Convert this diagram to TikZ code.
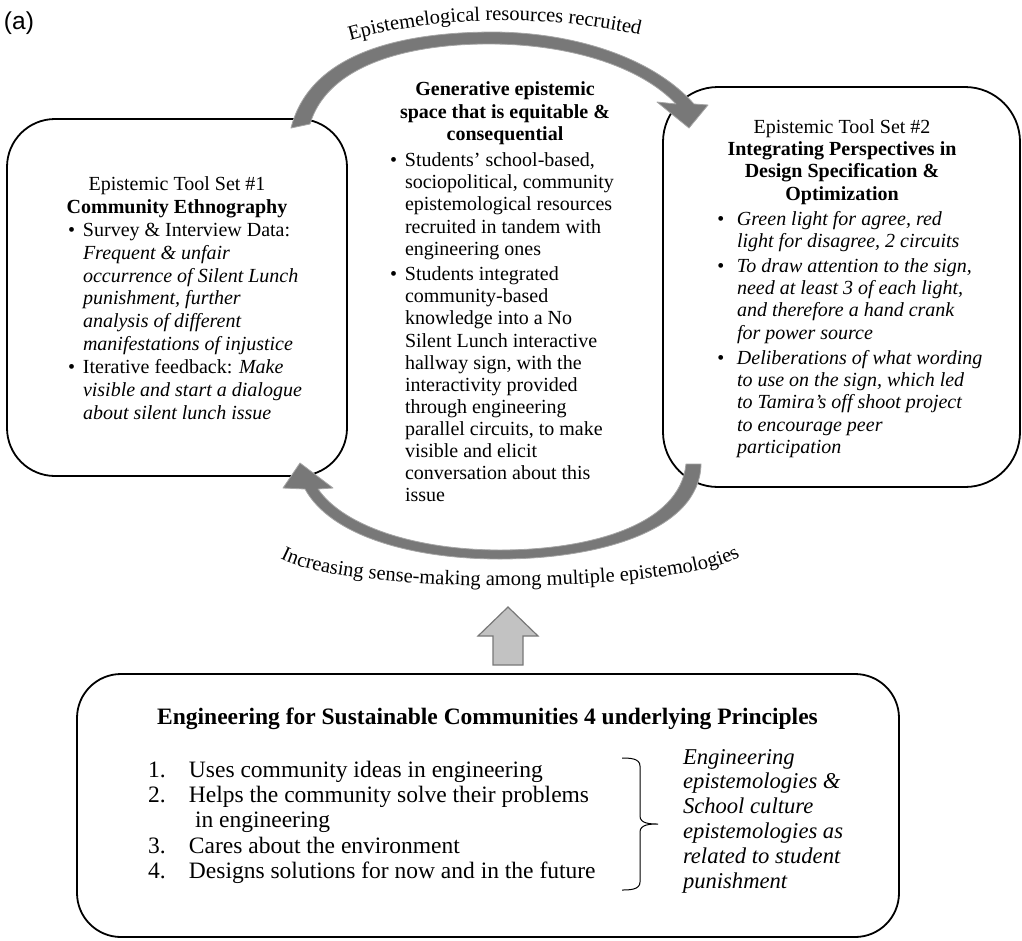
\documentclass[tikz,border=0pt]{standalone}
\usepackage{fontspec}
\setmainfont{Liberation Serif}
\newfontfamily\labelsans{Liberation Sans}
\usetikzlibrary{decorations.text}
\newcommand{\fsz}[2]{\fontsize{#1}{#2}\selectfont}
\newcommand{\bul}[1]{\makebox[#1][l]{\textbullet}}
\newcommand{\ind}[1]{\hspace*{#1}}
\definecolor{arrowgray}{RGB}{120,120,120}
\definecolor{arrowedge}{RGB}{165,165,165}
\definecolor{upfill}{RGB}{194,194,194}
\definecolor{upedge}{RGB}{120,120,120}
\tikzset{
  box/.style={draw=black, line width=1.8pt, fill=white},
  txt/.style={inner sep=0pt, outer sep=0pt, anchor=base},
  txtl/.style={inner sep=0pt, outer sep=0pt, anchor=base west},
  curvedarrow/.style={fill=arrowgray, draw=arrowedge, line width=0.8pt, line join=round},
  uparrow/.style={fill=upfill, draw=upedge, line width=1.2pt},
  bracestyle/.style={draw=black, line width=1pt},
}
\begin{document}
\begin{tikzpicture}[x=1pt, y=-1pt]
\useasboundingbox (0,0) rectangle (1022,940);

% label
\node[txtl] (alabel) at (4,29) {\labelsans\fsz{24.5}{28}(a)};

% boxes
\node[box, rounded corners=48pt, minimum width=340pt, minimum height=357pt] (leftbox) at (177,297.5) {};
\node[box, rounded corners=55pt, minimum width=357pt, minimum height=400pt] (rightbox) at (841.5,287) {};
\node[box, rounded corners=44pt, minimum width=822pt, minimum height=263pt] (bottombox) at (488,805.5) {};

% left box text
\node[txt] (lhead) at (177,190.5) {\fsz{20}{22.7}\begin{tabular}[t]{@{}c@{}}Epistemic Tool Set \#1\\\textbf{Community Ethnography}\end{tabular}};
\node[txtl] (llist) at (68,236.7) {\fsz{20}{22.7}\begin{tabular}[t]{@{}l@{}}
\bul{15pt}Survey \& Interview Data:\\
\ind{15pt}\textit{Frequent \& unfair}\\
\ind{15pt}\textit{occurrence of Silent Lunch}\\
\ind{15pt}\textit{punishment, further}\\
\ind{15pt}\textit{analysis of different}\\
\ind{15pt}\textit{manifestations of injustice}\\[1pt]
\bul{15pt}Iterative feedback: \textit{Make}\\
\ind{15pt}\textit{visible and start a dialogue}\\
\ind{15pt}\textit{about silent lunch issue}
\end{tabular}};

% centre text
\node[txt] (chead) at (505,95.8) {\fsz{20}{22.4}\bfseries\begin{tabular}[t]{@{}c@{}}Generative epistemic\\space that is equitable \&\\consequential\end{tabular}};
\node[txtl] (clist) at (390,166.7) {\fsz{20}{22.1}\begin{tabular}[t]{@{}l@{}}
\bul{15pt}Students’ school-based,\\
\ind{15pt}sociopolitical, community\\
\ind{15pt}epistemological resources\\
\ind{15pt}recruited in tandem with\\
\ind{15pt}engineering ones\\[3.5pt]
\bul{15pt}Students integrated\\
\ind{15pt}community-based\\
\ind{15pt}knowledge into a No\\
\ind{15pt}Silent Lunch interactive\\
\ind{15pt}hallway sign, with the\\
\ind{15pt}interactivity provided\\
\ind{15pt}through engineering\\
\ind{15pt}parallel circuits, to make\\
\ind{15pt}visible and elicit\\
\ind{15pt}conversation about this\\
\ind{15pt}issue
\end{tabular}};

% right box text
\node[txt] (rhead) at (842,133.3) {\fsz{20}{22.3}\begin{tabular}[t]{@{}c@{}}Epistemic Tool Set \#2\\\textbf{Integrating Perspectives in}\\\textbf{Design Specification \&}\\\textbf{Optimization}\end{tabular}};
\node[txtl] (rlist) at (717,225) {\fsz{20}{22.3}\itshape\begin{tabular}[t]{@{}l@{}}
\bul{20pt}Green light for agree, red\\
\ind{20pt}light for disagree, 2 circuits\\[2.7pt]
\bul{20pt}To draw attention to the sign,\\
\ind{20pt}need at least 3 of each light,\\
\ind{20pt}and therefore a hand crank\\
\ind{20pt}for power source\\[2.7pt]
\bul{20pt}Deliberations of what wording\\
\ind{20pt}to use on the sign, which led\\
\ind{20pt}to Tamira’s off shoot project\\
\ind{20pt}to encourage peer\\
\ind{20pt}participation
\end{tabular}};

% bottom box text
\node[txt] (bhead) at (487.5,724) {\fsz{23.5}{27}\bfseries Engineering for Sustainable Communities 4 underlying Principles};
\node[txtl] (blist) at (148,777.3) {\fsz{23.5}{25.3}\begin{tabular}[t]{@{}l@{}}
\makebox[41pt][l]{1.}Uses community ideas in engineering\\
\makebox[41pt][l]{2.}Helps the community solve their problems\\
\ind{47pt}in engineering\\
\makebox[41pt][l]{3.}Cares about the environment\\
\makebox[41pt][l]{4.}Designs solutions for now and in the future
\end{tabular}};
\node[txtl] (bnote) at (683,764) {\fsz{22.6}{24.9}\itshape\begin{tabular}[t]{@{}l@{}}
Engineering\\
epistemologies \&\\
School culture\\
epistemologies as\\
related to student\\
punishment
\end{tabular}};

% brace
\draw[bracestyle] (622,758) to[out=0,in=90] (640,766) -- (640,816) to[out=270,in=180] (658,824)
  to[out=180,in=90] (640,832) -- (640,882) to[out=270,in=0] (622,890);

% top curved arrow
\draw[curvedarrow] (291,128) .. controls (312,45) and (420,32) .. (495,32)
  .. controls (580,33) and (655,60) .. (694,104)
  -- (708,105) -- (689,128) -- (657,102) -- (676,104)
  .. controls (640,66) and (570,45) .. (495,44)
  .. controls (425,43) and (330,58) .. (310,124) -- cycle;

% bottom curved arrow
\draw[curvedarrow] (701,464) .. controls (700,530) and (600,559) .. (500,559)
  .. controls (410,559) and (330,535) .. (305,489)
  -- (283,488) -- (300,463) -- (333,488) -- (318,489)
  .. controls (345,528) and (420,550) .. (500,550)
  .. controls (590,550) and (680,525) .. (686,464) -- cycle;

% up arrow
\draw[uparrow] (493,665) -- (493,636) -- (478,636) -- (508,607) -- (538,636) -- (523,636) -- (523,665) -- cycle;

% curved labels
\path[decorate, decoration={text along path, text align=center,
  text={|\fsz{20.5}{24}|Epistemelogical resources recruited}}]
  (338,44) .. controls (430,14) and (560,14) .. (652,38);
\path[decorate, decoration={text along path, text align=center,
  text={|\fsz{20.5}{24}|Increasing sense-making among multiple epistemologies}}]
  (281,559) .. controls (350,595) and (670,595) .. (739,557);
\end{tikzpicture}
\end{document}
